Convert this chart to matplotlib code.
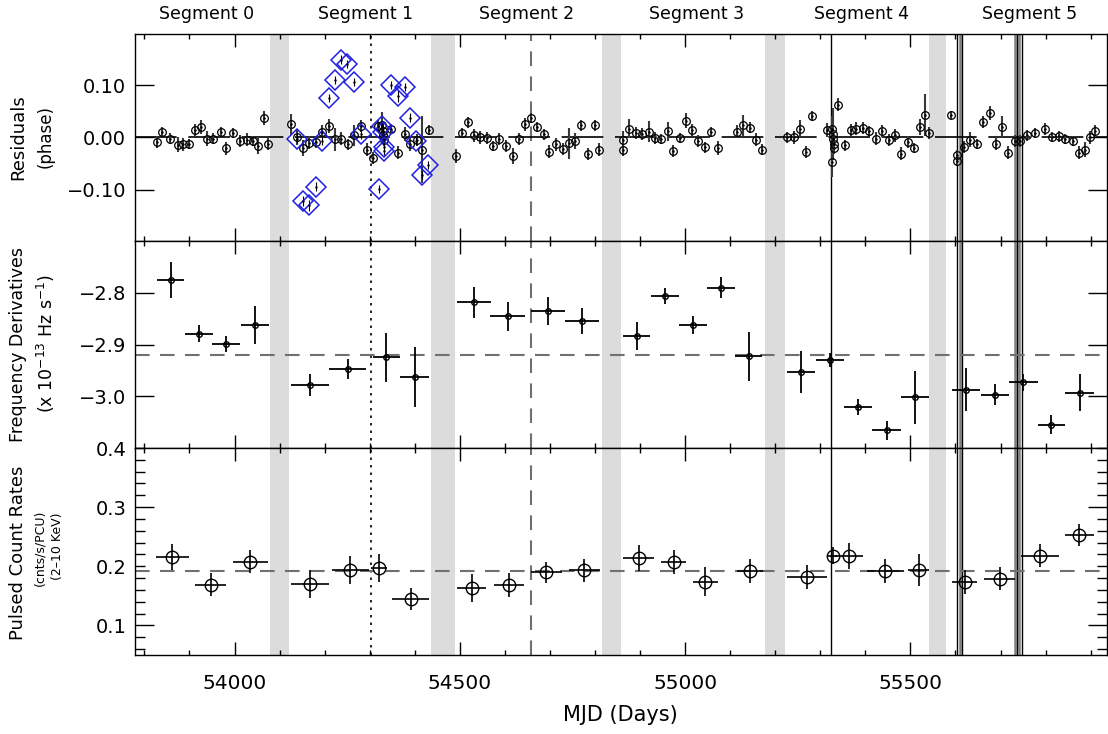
import numpy as np
import matplotlib
matplotlib.use('Agg')
import matplotlib.pyplot as plt
from matplotlib.ticker import MultipleLocator, FixedLocator

# phase residuals (black circles)
res_mjd = [53827, 53840, 53856, 53874, 53886, 53899, 53912, 53925, 53938, 53953,
           53969, 53982, 53997, 54012, 54027, 54040, 54052, 54065, 54075,
           54126, 54139, 54152, 54166, 54180, 54195, 54209, 54222, 54237, 54251,
           54265, 54280, 54293, 54308, 54319, 54327, 54329, 54330, 54331, 54348,
           54363, 54378, 54389, 54404, 54417, 54431,
           54491, 54505, 54518, 54531, 54544, 54560, 54574, 54586, 54602, 54617,
           54631, 54644, 54657, 54671, 54686, 54698, 54713, 54728, 54742, 54755,
           54770, 54785, 54799, 54809,
           54862, 54863, 54876, 54890, 54904, 54919, 54933, 54947, 54961, 54973,
           54988, 55003, 55016, 55029, 55045, 55058, 55073, 55114, 55128, 55143,
           55157, 55171,
           55226, 55241, 55254, 55269, 55282, 55315, 55325, 55327, 55328, 55329,
           55330, 55331, 55339, 55354, 55367, 55380, 55395, 55407, 55423, 55438,
           55452, 55466, 55480, 55495, 55507, 55522, 55533, 55541,
           55591, 55603, 55604, 55619, 55633, 55648, 55661, 55676, 55689, 55704,
           55717, 55731, 55744, 55759, 55776, 55798, 55815, 55830, 55843, 55861,
           55873, 55887, 55898, 55909]
res_val = [-0.009, 0.011, -0.002, -0.014, -0.013, -0.012, 0.014, 0.020, -0.002, -0.002,
           0.011, -0.021, 0.009, -0.007, -0.004, -0.007, -0.016, 0.037, -0.012,
           0.025, 0.000, -0.020, -0.010, -0.009, 0.011, 0.022, -0.003, -0.002, -0.013,
           0.004, 0.022, -0.023, -0.039, 0.022, 0.024, 0.012, 0.004, -0.004, 0.016,
           -0.029, 0.007, -0.013, -0.005, -0.023, 0.014,
           -0.035, 0.009, 0.029, 0.004, 0.000, -0.001, -0.016, -0.003, -0.016, -0.035,
           -0.003, 0.025, 0.037, 0.020, 0.006, -0.027, -0.013, -0.022, -0.011, -0.007,
           0.023, -0.032, 0.023, -0.023,
           -0.005, -0.023, 0.017, 0.009, 0.007, 0.011, -0.001, -0.003, 0.012, -0.026,
           -0.001, 0.032, 0.014, -0.007, -0.019, 0.011, -0.020, 0.011, 0.023, 0.019,
           -0.004, -0.023,
           0.000, 0.000, 0.017, -0.028, 0.041, 0.014, -0.046, 0.017, 0.007, -0.002,
           -0.012, -0.020, 0.063, -0.015, 0.014, 0.017, 0.018, 0.012, -0.002, 0.012,
           -0.005, 0.004, -0.031, -0.009, -0.020, 0.020, 0.043, 0.009,
           0.043, -0.034, -0.045, -0.018, -0.004, -0.012, 0.030, 0.047, -0.012, 0.021,
           -0.029, -0.007, -0.007, 0.004, 0.009, 0.016, 0.001, 0.002, -0.003, -0.007,
           -0.029, -0.023, 0.000, 0.012]
res_err = [0.012, 0.010, 0.010, 0.014, 0.012, 0.010, 0.012, 0.013, 0.014, 0.010,
           0.010, 0.012, 0.010, 0.012, 0.012, 0.010, 0.016, 0.013, 0.012,
           0.020, 0.015, 0.015, 0.012, 0.012, 0.012, 0.014, 0.022, 0.012, 0.010,
           0.020, 0.012, 0.012, 0.012, 0.012, 0.025, 0.020, 0.015, 0.012, 0.010,
           0.012, 0.014, 0.012, 0.012, 0.064, 0.010,
           0.013, 0.010, 0.010, 0.012, 0.012, 0.012, 0.010, 0.012, 0.012, 0.015,
           0.012, 0.012, 0.010, 0.010, 0.010, 0.012, 0.012, 0.012, 0.030, 0.015,
           0.010, 0.012, 0.010, 0.013,
           0.018, 0.012, 0.018, 0.012, 0.012, 0.020, 0.012, 0.010, 0.018, 0.012,
           0.010, 0.014, 0.012, 0.012, 0.010, 0.010, 0.014, 0.012, 0.020, 0.010,
           0.012, 0.010,
           0.010, 0.012, 0.016, 0.012, 0.010, 0.014, 0.030, 0.025, 0.050, 0.020,
           0.015, 0.012, 0.013, 0.010, 0.012, 0.012, 0.012, 0.010, 0.012, 0.012,
           0.012, 0.012, 0.012, 0.012, 0.010, 0.015, 0.040, 0.012,
           0.008, 0.010, 0.010, 0.012, 0.014, 0.010, 0.012, 0.014, 0.012, 0.020,
           0.012, 0.012, 0.012, 0.010, 0.010, 0.012, 0.010, 0.010, 0.010, 0.010,
           0.012, 0.015, 0.012, 0.012]

# residuals of the flagged TOAs (blue diamonds)
dia_mjd = [54139, 54152, 54166, 54180, 54195, 54209, 54222, 54236, 54250, 54265,
           54280, 54320, 54328, 54330, 54331, 54332, 54348, 54363, 54378, 54389,
           54402, 54416, 54430]
dia_val = [-0.002, -0.122, -0.130, -0.094, -0.007, 0.076, 0.110, 0.149, 0.140, 0.106,
           0.006, -0.099, 0.022, 0.010, -0.018, -0.025, 0.100, 0.079, 0.096, 0.038,
           -0.007, -0.071, -0.053]
dia_err = [0.008, 0.010, 0.010, 0.008, 0.008, 0.008, 0.008, 0.008, 0.008, 0.008,
           0.008, 0.008, 0.008, 0.008, 0.008, 0.008, 0.008, 0.012, 0.008, 0.008,
           0.008, 0.008, 0.008]

# frequency derivatives (x 1e-13 Hz/s)
fd_mjd = [53858, 53921, 53982, 54045, 54167, 54251, 54337, 54400, 54531, 54606,
          54696, 54771, 54893, 54955, 55018, 55080, 55141, 55257, 55321, 55384,
          55447, 55510, 55623, 55687, 55750, 55813, 55876]
fd_val = [-2.776, -2.879, -2.899, -2.862, -2.978, -2.947, -2.925, -2.962, -2.818, -2.845,
          -2.835, -2.854, -2.883, -2.806, -2.862, -2.790, -2.923, -2.953, -2.930, -3.021,
          -3.066, -3.002, -2.987, -2.997, -2.973, -3.055, -2.993]
fd_xerr = [30, 31, 31, 31, 42, 41, 30, 32, 38, 38, 38, 37, 30, 31, 31, 31, 30, 31,
           31, 31, 32, 32, 31, 31, 32, 31, 32]
fd_yerr = [0.035, 0.016, 0.016, 0.037, 0.021, 0.019, 0.047, 0.058, 0.030, 0.028,
           0.027, 0.025, 0.027, 0.016, 0.017, 0.021, 0.047, 0.040, 0.014, 0.015,
           0.019, 0.051, 0.041, 0.020, 0.016, 0.018, 0.036]
fd_mean = -2.92

# pulsed count rates (cnts/s/PCU, 2-10 keV)
pc_mjd = [53862, 53947, 54035, 54167, 54257, 54321, 54391, 54526, 54609, 54692,
          54776, 54897, 54975, 55045, 55143, 55270, 55328, 55364, 55444, 55518,
          55620, 55698, 55787, 55875]
pc_val = [0.215, 0.169, 0.208, 0.170, 0.194, 0.197, 0.145, 0.163, 0.168, 0.190,
          0.193, 0.214, 0.207, 0.174, 0.192, 0.182, 0.218, 0.218, 0.192, 0.193,
          0.173, 0.179, 0.218, 0.253]
pc_xerr = [36, 35, 39, 42, 41, 18, 41, 33, 33, 35, 34, 34, 28, 28, 29, 45, 10, 31,
           41, 24, 28, 35, 42, 32]
pc_yerr = [0.022, 0.020, 0.019, 0.024, 0.024, 0.024, 0.019, 0.024, 0.020, 0.018,
           0.019, 0.022, 0.020, 0.025, 0.021, 0.020, 0.014, 0.022, 0.020, 0.027,
           0.020, 0.019, 0.019, 0.019]
pc_mean = 0.192

# data gaps between segments, and event markers
gap_start = [54078, 54436, 54815, 55178, 55542]
gap_end = [54120, 54489, 54857, 55221, 55580]
dotted_mjd = 54302
dashed_mjd = 54657
glitch_mjd = 55324
burst_black = [55604, 55614, 55737, 55747]
burst_gray = [55609, 55732, 55742]

segment_names = ['Segment 0', 'Segment 1', 'Segment 2', 'Segment 3', 'Segment 4', 'Segment 5']
segment_pos = [53939, 54291, 54649, 55026, 55392, 55765]

res_ticks = [-0.10, 0.0, 0.10]
res_ticklabels = ['\u22120.10', '0.00', '0.10']
fd_ticks = [-3.0, -2.9, -2.8]
fd_ticklabels = ['\u22123.0', '\u22122.9', '\u22122.8']

plt.rcParams['font.family'] = 'DejaVu Sans'

fig, axes = plt.subplots(3, 1, sharex=True, figsize=(11.08, 7.34), dpi=100)
fig.subplots_adjust(left=0.1214, right=0.999, top=0.9537, bottom=0.1076, hspace=0)
ax1, ax2, ax3 = axes

for ax in axes:
    for s, e in zip(gap_start, gap_end):
        ax.axvspan(s, e, color='#dcdcdc', lw=0, zorder=0)
    ax.axvline(dotted_mjd, color='k', ls=(0, (1.5, 3)), lw=1.2, zorder=1)
    ax.axvline(dashed_mjd, color='#707070', ls=(0, (7, 5)), lw=1.5, zorder=1)
    ax.axvline(glitch_mjd, color='k', lw=1.0, zorder=1)
    for m in burst_gray:
        ax.axvline(m, color='#808080', lw=1.8, zorder=1)
    for m in burst_black:
        ax.axvline(m, color='k', lw=1.0, zorder=1)
    ax.set_xlim(53778, 55936)
    ax.xaxis.set_major_locator(MultipleLocator(500))
    ax.xaxis.set_minor_locator(MultipleLocator(100))
    ax.tick_params(axis='x', which='both', direction='in', top=True, bottom=True)
    ax.tick_params(axis='x', which='major', length=9.5, width=1)
    ax.tick_params(axis='x', which='minor', length=3.5, width=1)
    ax.tick_params(axis='y', which='both', direction='in', left=True, right=True,
                   labelsize=14, pad=6)
    ax.tick_params(axis='y', which='major', length=14, width=1)
    ax.tick_params(axis='x', labelsize=14.5, pad=14)
    for sp in ax.spines.values():
        sp.set_linewidth(1.0)

# top panel: residuals
ax1.axhline(0, color='k', lw=1.2, ls=(0, (25, 7)), zorder=1)
ax1.errorbar(res_mjd, res_val, yerr=res_err, fmt='o', ms=5.5, mfc='none', mec='k',
             mew=0.9, ecolor='#3a3a3a', elinewidth=1.5, capsize=0, zorder=3)
ax1.plot(res_mjd, res_val, '.', color='k', ms=1.5, zorder=4)
ax1.errorbar(dia_mjd, dia_val, yerr=dia_err, fmt='D', ms=10.5, mfc='none', mec='#2020e0',
             mew=1.1, ecolor='k', elinewidth=0.8, capsize=0, zorder=3)
ax1.plot(dia_mjd, dia_val, '.', color='k', ms=1.5, zorder=4)
ax1.set_ylim(-0.198, 0.198)
ax1.set_yticks(res_ticks)
ax1.set_yticklabels(res_ticklabels)
for name, pos in zip(segment_names, segment_pos):
    ax1.text(pos, 1.095, name, transform=ax1.get_xaxis_transform(),
             ha='center', va='center', fontsize=12.5)

# middle panel: frequency derivatives
ax2.axhline(fd_mean, color='#707070', lw=1.5, ls=(0, (7, 5)), zorder=1)
ax2.errorbar(fd_mjd, fd_val, xerr=fd_xerr, yerr=fd_yerr, fmt='o', ms=4, mfc='none',
             mec='k', mew=1.0, ecolor='k', elinewidth=1.3, capsize=0, zorder=3)
ax2.set_ylim(-3.1, -2.7)
ax2.set_yticks(fd_ticks)
ax2.set_yticklabels(fd_ticklabels)

# bottom panel: pulsed count rates
ax3.axhline(pc_mean, color='#707070', lw=1.5, ls=(0, (7, 5)), zorder=1)
ax3.errorbar(pc_mjd, pc_val, xerr=pc_xerr, yerr=pc_yerr, fmt='o', ms=9, mfc='none',
             mec='k', mew=1.0, ecolor='k', elinewidth=1.2, capsize=0, zorder=3)
ax3.set_ylim(0.05, 0.4)
ax3.yaxis.set_major_locator(FixedLocator([0.1, 0.3]))
ax3.yaxis.set_minor_locator(FixedLocator([0.06, 0.08, 0.12, 0.14, 0.16, 0.18, 0.2, 0.22,
                                          0.24, 0.26, 0.28, 0.32, 0.34, 0.36, 0.38, 0.4]))
ax3.yaxis.set_major_formatter(plt.FuncFormatter(lambda v, p: '%.1f' % v))
ax3.yaxis.set_minor_formatter(plt.FuncFormatter(
    lambda v, p: '%.1f' % v if abs(v - 0.2) < 1e-6 or abs(v - 0.4) < 1e-6 else ''))
ax3.tick_params(axis='y', which='minor', length=7, width=1, labelsize=14, pad=6)
ax3.set_xlabel('MJD (Days)', fontsize=15, labelpad=8)

# y axis labels, two or three lines each
W, H = 1108.0, 734.0
fig.text(18 / W, 1 - 137 / H, 'Residuals', rotation=90, ha='center', va='center', fontsize=13)
fig.text(46 / W, 1 - 137 / H, '(phase)', rotation=90, ha='center', va='center', fontsize=12)
fig.text(18 / W, 1 - 345 / H, 'Frequency Derivatives', rotation=90, ha='center',
         va='center', fontsize=12.5)
fig.text(46 / W, 1 - 343 / H, r'(x 10$^{-13}$ Hz s$^{-1}$)', rotation=90, ha='center',
         va='center', fontsize=12.5)
fig.text(18 / W, 1 - 553 / H, 'Pulsed Count Rates', rotation=90, ha='center',
         va='center', fontsize=13)
fig.text(40 / W, 1 - 548 / H, '(cnts/s/PCU)', rotation=90, ha='center', va='center',
         fontsize=9)
fig.text(57 / W, 1 - 546 / H, '(2\u201310 KeV)', rotation=90, ha='center', va='center',
         fontsize=9)

fig.savefig('out.png', dpi=100)
